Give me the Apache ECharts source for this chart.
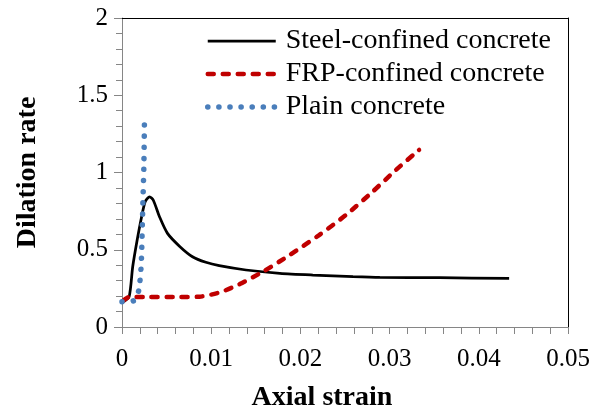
<!DOCTYPE html>
<html>
<head>
<meta charset="utf-8">
<script src="https://cdn.jsdelivr.net/npm/echarts@6/dist/echarts.min.js"></script>
<style>
  html, body { margin: 0; padding: 0; background: #fff; }
  #chart { width: 593px; height: 412px; }
</style>
</head>
<body>
<div id="chart"></div>
<script>
// Dilation rate versus axial strain for three concrete types
const seriesNames = ['Steel-confined concrete', 'FRP-confined concrete', 'Plain concrete'];

const steelStrain = [0.0002, 0.0008, 0.0012, 0.0017, 0.0022, 0.0026, 0.0031, 0.0035, 0.0042, 0.0051, 0.0065, 0.0079, 0.0094, 0.0109, 0.0139, 0.0177, 0.0214, 0.0259, 0.0289, 0.0356, 0.0434];
const steelRate   = [0.165, 0.196, 0.39, 0.563, 0.714, 0.811, 0.843, 0.822, 0.714, 0.606, 0.52, 0.455, 0.419, 0.397, 0.369, 0.347, 0.336, 0.326, 0.321, 0.319, 0.314];

const frpStrain = [0.0001, 0.0008, 0.003, 0.0065, 0.0087, 0.0098, 0.0112, 0.0132, 0.0158, 0.0188, 0.0221, 0.0251, 0.0281, 0.0307, 0.0333];
const frpRate   = [0.168, 0.194, 0.194, 0.194, 0.196, 0.207, 0.228, 0.278, 0.358, 0.466, 0.595, 0.725, 0.876, 1.016, 1.146];

const plainStrain = [0, 0.0013, 0.0019, 0.00204, 0.00215, 0.0022, 0.0023, 0.00245, 0.00252];
const plainRate   = [0.164, 0.17, 0.239, 0.315, 0.395, 0.477, 0.714, 1.037, 1.346];

const xTicks = { min: 0, max: 0.05, interval: 0.01 };
const yTicks = { min: 0, max: 2, interval: 0.5 };

const pairs = (xs, ys) => xs.map((x, i) => [x, ys[i]]);

const FONT = '"Liberation Serif", "Times New Roman", serif';
const AXIS_GREY = '#868686';

const STYLES = [
  { color: '#000000', width: 2.75, type: 'solid', cap: 'butt' },
  { color: '#C00000', width: 4.5, type: [6, 9], cap: 'round' },
  { color: '#4A7EBB', width: 5.5, type: [0.1, 11], cap: 'round' }
];

const chart = echarts.init(document.getElementById('chart'), null, { renderer: 'canvas' });

chart.setOption({
  animation: false,
  backgroundColor: '#ffffff',
  grid: { left: 122, right: 25, top: 18, bottom: 85, containLabel: false, outerBoundsMode: 'none' },
  legend: {
    orient: 'vertical',
    left: 200,
    top: 22,
    itemWidth: 68,
    itemHeight: 14,
    itemGap: 5,
    data: seriesNames.map((name, i) => ({
      name,
      lineStyle: { color: STYLES[i].color, width: STYLES[i].width, type: STYLES[i].type, cap: STYLES[i].cap }
    })),
    itemStyle: { opacity: 0 },
    textStyle: { fontFamily: FONT, fontSize: 28, color: '#000', lineHeight: 28, padding: [0, 0, 0, 5] }
  },
  xAxis: [
    {
      type: 'value',
      min: xTicks.min, max: xTicks.max, interval: xTicks.interval,
      name: 'Axial strain',
      nameLocation: 'middle',
      nameGap: 57,
      nameTextStyle: { fontFamily: FONT, fontSize: 28, fontWeight: 'bold', color: '#000', padding: [0, 46, 0, 0] },
      axisLine: { show: true, lineStyle: { color: AXIS_GREY, width: 1 } },
      axisTick: { show: true, length: 7, lineStyle: { color: AXIS_GREY } },
      minorTick: { show: true, splitNumber: 5, length: 7, lineStyle: { color: AXIS_GREY } },
      axisLabel: {
        margin: 20, fontFamily: FONT, fontSize: 25, color: '#000',
        formatter: v => String(+v.toFixed(3))
      },
      splitLine: { show: false }
    },
    {
      type: 'value', position: 'top',
      min: xTicks.min, max: xTicks.max,
      axisLine: { show: true, onZero: false, lineStyle: { color: '#000', width: 1 } },
      axisTick: { show: false }, axisLabel: { show: false }, splitLine: { show: false }
    }
  ],
  yAxis: [
    {
      type: 'value',
      min: yTicks.min, max: yTicks.max, interval: yTicks.interval,
      name: 'Dilation rate',
      nameLocation: 'middle',
      nameGap: 80,
      nameTextStyle: { fontFamily: FONT, fontSize: 28, fontWeight: 'bold', color: '#000' },
      axisLine: { show: true, lineStyle: { color: AXIS_GREY, width: 1 } },
      axisTick: { show: true, length: 8, lineStyle: { color: AXIS_GREY } },
      minorTick: { show: true, splitNumber: 5, length: 6, lineStyle: { color: AXIS_GREY } },
      axisLabel: {
        margin: 14, fontFamily: FONT, fontSize: 25, color: '#000',
        formatter: v => String(+v.toFixed(2))
      },
      splitLine: { show: false }
    },
    {
      type: 'value', position: 'right',
      min: yTicks.min, max: yTicks.max,
      axisLine: { show: true, onZero: false, lineStyle: { color: '#000', width: 1 } },
      axisTick: { show: false }, axisLabel: { show: false }, splitLine: { show: false }
    }
  ],
  series: [
    {
      name: seriesNames[0], type: 'line', showSymbol: false, symbol: 'none',
      smooth: 0.25, z: 2,
      data: pairs(steelStrain, steelRate),
      lineStyle: STYLES[0],
      itemStyle: { color: STYLES[0].color }
    },
    {
      name: seriesNames[1], type: 'line', showSymbol: false, symbol: 'none',
      smooth: 0.25, z: 3,
      data: pairs(frpStrain, frpRate),
      lineStyle: STYLES[1],
      itemStyle: { color: STYLES[1].color }
    },
    {
      name: seriesNames[2], type: 'line', showSymbol: false, symbol: 'none',
      smooth: 0.15, z: 4,
      data: pairs(plainStrain, plainRate),
      lineStyle: STYLES[2],
      itemStyle: { color: STYLES[2].color }
    }
  ]
});
</script>
</body>
</html>
